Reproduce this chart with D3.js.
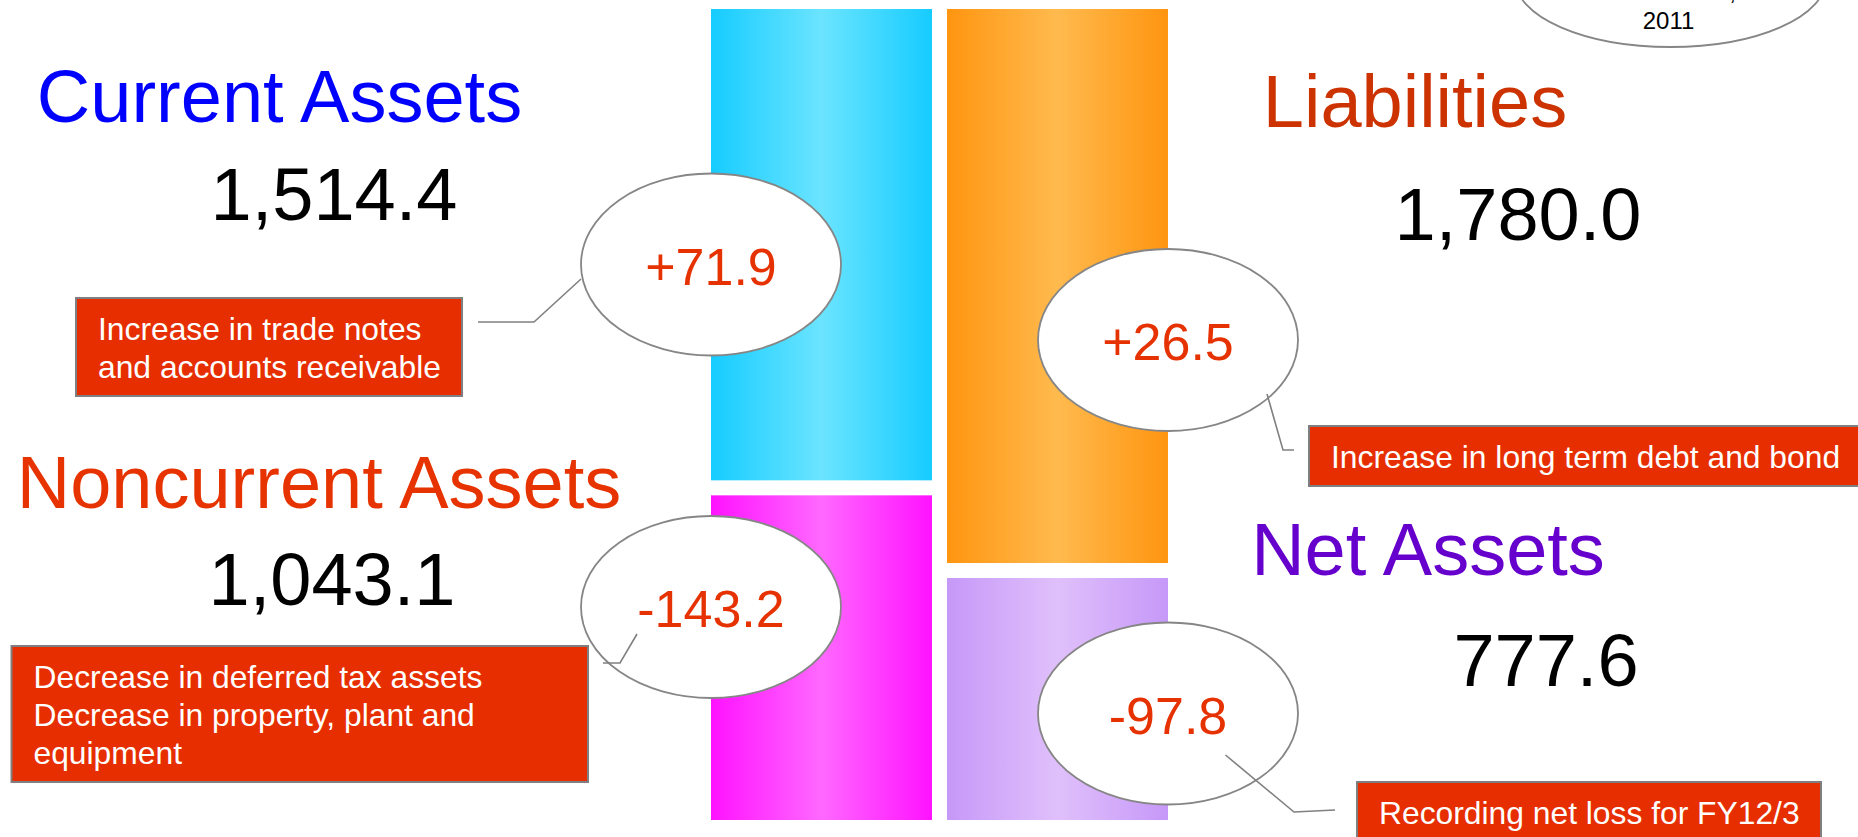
<!DOCTYPE html>
<html lang="en">
  <head>
    <meta charset="UTF-8" />
    <title>Balance Sheet</title>
    <script src="https://d3js.org/d3.v7.min.js"></script>
    <style>
      html,
      body {
        margin: 0;
        padding: 0;
        background: #fff;
      }
      svg {
        display: block;
        font-family: "Liberation Sans", Arial, sans-serif;
      }
      .big {
        font-size: 74px;
      }
      .bubble {
        fill: #fff;
        stroke: #868686;
        stroke-width: 1.8px;
      }
      .change {
        font-size: 52px;
        fill: #e63200;
      }
      .leader {
        fill: none;
        stroke: #808080;
        stroke-width: 1.6px;
      }
      .note-box {
        fill: #e62e00;
        stroke: #7f7f7f;
        stroke-width: 2px;
      }
      .note {
        font-size: 31.8px;
        fill: #fff;
      }
    </style>
  </head>
  <body>
    <div id="chart"></div>

    <script>
      // data (100 million yen)
      const columns = ["Assets", "Liabilities and Net Assets"];
      const items = ["Current Assets", "Noncurrent Assets", "Liabilities", "Net Assets"];
      const itemColumn = [0, 0, 1, 1];
      const balances = [1514.4, 1043.1, 1780.0, 777.6];
      const changes = [71.9, -143.2, 26.5, -97.8];
      const notes = [
        ["Increase in trade notes", "and accounts receivable"],
        ["Decrease in deferred tax assets", "Decrease in property, plant and", "equipment"],
        ["Increase in long term debt and bond"],
        ["Recording net loss for FY12/3"],
      ];
      const headerLines = ["As of March 31,", "2011"];

      // layout
      const width = 1858,
        height = 837;
      const barTop = 9,
        barBottom = 820,
        barGap = 15;
      const titleColors = ["#0000ff", "#e63300", "#cc3300", "#6600cc"];
      const gradients = [
        ["#16ccff", "#6be4ff"],
        ["#ff12ff", "#ff68ff"],
        ["#ff9510", "#ffba4e"],
        ["#c698f8", "#e0c0fb"],
      ];
      const titlePos = [
        [279.5, 122],
        [319, 508],
        [1415, 127],
        [1428, 575],
      ];
      const valuePos = [
        [334, 220],
        [332, 605],
        [1518, 240],
        [1546, 686],
      ];
      const bubbleY = [264.5, 607, 340, 713.5];
      const bubbleR = [130, 91];
      const boxes = [
        [76, 298, 386, 98],
        [11.5, 646, 576.5, 136],
        [1309, 426, 560, 60],
        [1357, 782, 464, 80],
      ];
      const leaders = [
        [[478, 322], [534, 322], [581, 279]],
        [[637, 634], [620, 663], [603, 663]],
        [[1267, 394], [1283, 450], [1294, 450]],
        [[1225.5, 755], [1294, 812], [1335, 810]],
      ];

      const fmt = d3.formatLocale({
        decimal: ".",
        thousands: ",",
        grouping: [3],
        currency: ["", ""],
        minus: "-",
      });
      const fmtValue = fmt.format(",.1f");
      const fmtChange = fmt.format("+.1f");

      const svg = d3
        .select("#chart")
        .append("svg")
        .attr("width", width)
        .attr("height", height);

      const defs = svg.append("defs");
      gradients.forEach((g, i) => {
        const lg = defs
          .append("linearGradient")
          .attr("id", "grad" + i)
          .attr("x1", "0%")
          .attr("x2", "100%")
          .attr("y1", "0%")
          .attr("y2", "0%");
        lg.append("stop").attr("offset", "0%").attr("stop-color", g[0]);
        lg.append("stop").attr("offset", "50%").attr("stop-color", g[1]);
        lg.append("stop").attr("offset", "100%").attr("stop-color", g[0]);
      });

      // scales
      const x = d3
        .scaleBand()
        .domain(columns)
        .range([711, 1168])
        .paddingInner(0.0636)
        .paddingOuter(0);

      const total = d3.sum(balances.filter((d, i) => itemColumn[i] === 0));
      const h = d3
        .scaleLinear()
        .domain([0, total])
        .range([0, barBottom - barTop - barGap]);

      // stack bars per column
      const tops = [];
      const offset = [barTop, barTop];
      balances.forEach((v, i) => {
        const c = itemColumn[i];
        tops.push(offset[c]);
        offset[c] += h(v) + barGap;
      });

      svg
        .append("g")
        .selectAll("rect")
        .data(balances)
        .join("rect")
        .attr("x", (d, i) => x(columns[itemColumn[i]]))
        .attr("y", (d, i) => tops[i])
        .attr("width", x.bandwidth())
        .attr("height", (d) => h(d))
        .attr("fill", (d, i) => `url(#grad${i})`);

      // titles and balances
      svg
        .append("g")
        .selectAll("text")
        .data(items)
        .join("text")
        .attr("class", "big")
        .attr("text-anchor", "middle")
        .attr("x", (d, i) => titlePos[i][0])
        .attr("y", (d, i) => titlePos[i][1])
        .attr("fill", (d, i) => titleColors[i])
        .text((d) => d);

      svg
        .append("g")
        .selectAll("text")
        .data(balances)
        .join("text")
        .attr("class", "big")
        .attr("text-anchor", "middle")
        .attr("x", (d, i) => valuePos[i][0])
        .attr("y", (d, i) => valuePos[i][1])
        .attr("fill", "#000")
        .text((d) => fmtValue(d));

      // change bubbles sit on the outer edge of each bar
      const bubbleX = (i) =>
        itemColumn[i] === 0
          ? x(columns[0])
          : x(columns[1]) + x.bandwidth();

      const bubbles = svg
        .append("g")
        .selectAll("g")
        .data(changes)
        .join("g");

      bubbles
        .append("ellipse")
        .attr("class", "bubble")
        .attr("cx", (d, i) => bubbleX(i))
        .attr("cy", (d, i) => bubbleY[i])
        .attr("rx", bubbleR[0])
        .attr("ry", bubbleR[1]);

      bubbles
        .append("text")
        .attr("class", "change")
        .attr("text-anchor", "middle")
        .attr("x", (d, i) => bubbleX(i))
        .attr("y", (d, i) => bubbleY[i] + 20)
        .text((d) => fmtChange(d));

      // leader lines
      svg
        .append("g")
        .selectAll("path")
        .data(leaders)
        .join("path")
        .attr("class", "leader")
        .attr("d", d3.line());

      // note boxes
      const noteG = svg.append("g").selectAll("g").data(notes).join("g");
      noteG
        .append("rect")
        .attr("class", "note-box")
        .attr("x", (d, i) => boxes[i][0])
        .attr("y", (d, i) => boxes[i][1])
        .attr("width", (d, i) => boxes[i][2])
        .attr("height", (d, i) => boxes[i][3]);
      noteG.each(function (lines, i) {
        d3.select(this)
          .selectAll("text")
          .data(lines)
          .join("text")
          .attr("class", "note")
          .attr("x", boxes[i][0] + 22)
          .attr("y", (d, j) => boxes[i][1] + 41.5 + j * 38)
          .text((d) => d);
      });

      // header bubble (top right, cut by page edge)
      svg
        .append("ellipse")
        .attr("class", "bubble")
        .attr("cx", 1670.5)
        .attr("cy", -20)
        .attr("rx", 155)
        .attr("ry", 67);
      svg
        .append("text")
        .attr("text-anchor", "end")
        .attr("x", 1736)
        .attr("y", 0)
        .attr("font-size", 24)
        .text(headerLines[0]);
      svg
        .append("text")
        .attr("text-anchor", "middle")
        .attr("x", 1668.5)
        .attr("y", 29)
        .attr("font-size", 24)
        .text(headerLines[1]);
    </script>
  </body>
</html>
